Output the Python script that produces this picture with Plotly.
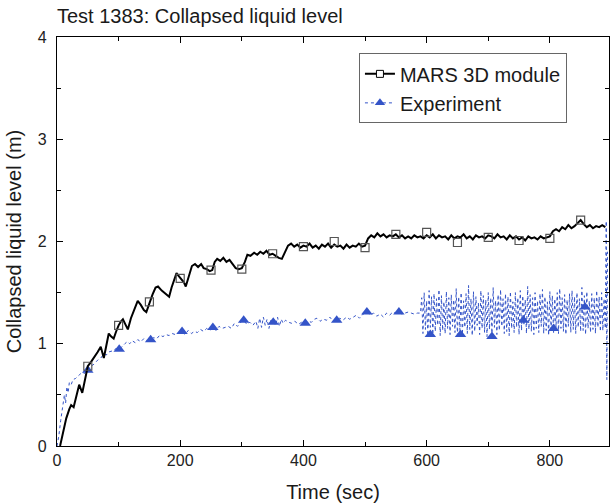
import plotly.graph_objects as go

# ---------------- data ----------------
mars_t = [5, 10, 15, 20, 23, 27, 31, 36, 41, 45, 50, 55, 60, 66, 71, 76, 80, 84, 88, 92,
          96, 100, 104, 107, 111, 115, 120, 125, 131, 136, 141, 145, 150, 155, 160, 164,
          170, 176, 182, 186, 190, 194, 198, 202, 206, 209, 214, 219, 224, 229, 234, 238,
          243, 248, 252, 256, 260, 265, 270, 275, 280, 285, 290, 295, 300, 305, 309, 314,
          320, 325, 330, 335, 340, 345, 350, 355, 360, 365, 370, 375, 380, 385, 390, 395,
          400, 405, 410, 415, 420, 425, 430, 435, 440, 445, 450, 455, 460, 465, 470, 475,
          480, 485, 490, 495, 500, 505, 510, 515, 520, 525, 530, 535, 540, 545, 550, 555,
          560, 565, 570, 575, 580, 585, 590, 595, 600, 605, 610, 615, 620, 625, 630, 635,
          640, 645, 650, 655, 660, 665, 670, 675, 680, 685, 690, 695, 700, 705, 710, 715,
          720, 725, 730, 735, 740, 745, 750, 755, 760, 765, 770, 775, 780, 785, 790, 795,
          800, 805, 810, 815, 820, 825, 830, 835, 840, 845, 850, 855, 860, 865, 870, 875,
          880, 885, 890]
mars_v = [0.00, 0.15, 0.27, 0.36, 0.40, 0.38, 0.48, 0.60, 0.52, 0.65, 0.78, 0.82, 0.86, 0.92, 0.97, 0.86, 0.98, 1.10, 1.07, 1.05,
          1.12, 1.18, 1.22, 1.24, 1.19, 1.14, 1.25, 1.33, 1.42, 1.38, 1.33, 1.31, 1.40, 1.48, 1.55, 1.56,
          1.52, 1.49, 1.46, 1.55, 1.62, 1.69, 1.66, 1.63, 1.60, 1.56, 1.66, 1.76, 1.78, 1.75, 1.78, 1.74,
          1.73, 1.71, 1.72, 1.80, 1.83, 1.81, 1.84, 1.80, 1.82, 1.78, 1.74, 1.73, 1.74, 1.80, 1.87, 1.86,
          1.89, 1.87, 1.90, 1.88, 1.91, 1.87, 1.88, 1.86, 1.84, 1.83, 1.90, 1.96, 1.98, 1.95, 1.97, 1.94,
          1.96, 1.95, 1.98, 1.94, 1.96, 1.93, 1.97, 1.95, 1.98, 1.94, 1.97, 1.95, 1.96, 1.93, 1.97, 1.94,
          1.96, 1.95, 1.98, 1.95, 1.96, 2.03, 2.06, 2.04, 2.08, 2.05, 2.07, 2.04, 2.06, 2.05, 2.07, 2.04,
          2.06, 2.03, 2.05, 2.03, 2.06, 2.04, 2.05, 2.03, 2.06, 2.04, 2.07, 2.03, 2.06, 2.04, 2.05, 2.02,
          2.06, 2.03, 2.05, 2.04, 2.07, 2.03, 2.05, 2.02, 2.06, 2.04, 2.05, 2.03, 2.06, 2.05, 2.03, 2.07,
          2.04, 2.05, 2.02, 2.06, 2.03, 2.05, 2.02, 2.04, 2.01, 2.05, 2.03, 2.04, 2.02, 2.05, 2.03, 2.04,
          2.05, 2.10, 2.12, 2.10, 2.14, 2.12, 2.16, 2.13, 2.15, 2.18, 2.21, 2.17, 2.14, 2.16, 2.13, 2.15,
          2.14, 2.16, 2.14]

mars_mk_t = [50, 100, 150, 200, 250, 300, 350, 400, 450, 500, 550, 600, 650, 700, 750, 800, 850]
mars_mk_v = [0.78, 1.18, 1.41, 1.64, 1.72, 1.73, 1.88, 1.95, 2.00, 1.94, 2.07, 2.09, 1.99, 2.04, 2.01, 2.03, 2.21]

exp_t = [0, 3, 6, 9, 12, 14, 16, 18, 20, 23, 26, 30, 33, 37, 41, 45, 50, 55, 60, 66,
         71, 76, 80, 84, 90, 95, 101, 106, 110, 114, 118, 122, 127, 131, 136, 141, 146, 152, 157, 162,
         167, 172, 177, 182, 187, 192, 197, 203, 208, 213, 218, 223, 228, 233, 238, 243, 248, 253, 258, 263,
         268, 273, 278, 283, 288, 293, 298, 303, 308, 313, 318, 323, 326, 329, 332, 335, 338, 341, 344, 347,
         351, 355, 358, 361, 364, 367, 371, 376, 381, 386, 392, 397, 403, 408, 413, 418, 422, 427, 432, 438,
         443, 448, 454, 459, 464, 470, 475, 481, 486, 491, 497, 503, 508, 514, 519, 525, 530, 535, 540, 545,
         550, 555, 560, 565, 570, 575, 580, 585, 590,
         592, 594, 596, 598, 600, 602, 604, 606, 608, 610,
         612, 614, 616, 618, 620, 622, 624, 626, 628, 630,
         632, 634, 636, 638, 640, 642, 644, 646, 648, 650,
         652, 654, 656, 658, 660, 662, 664, 666, 668, 670,
         672, 674, 676, 678, 680, 682, 684, 686, 688, 690,
         692, 694, 696, 698, 700, 702, 704, 706, 708, 710,
         712, 714, 716, 718, 720, 722, 724, 726, 728, 730,
         732, 734, 736, 738, 740, 742, 744, 746, 748, 750,
         752, 754, 756, 758, 760, 762, 764, 766, 768, 770,
         772, 774, 776, 778, 780, 782, 784, 786, 788, 790,
         792, 794, 796, 798, 800, 802, 804, 806, 808, 810,
         812, 814, 816, 818, 820, 822, 824, 826, 828, 830,
         832, 834, 836, 838, 840, 842, 844, 846, 848, 850,
         852, 854, 856, 858, 860, 862, 864, 866, 868, 870,
         872, 874, 876, 878, 880, 882, 884, 886, 888, 890,
         891.5, 892.5, 893.5]
exp_v = [0.00, 0.10, 0.25, 0.40, 0.50, 0.42, 0.58, 0.52, 0.62, 0.60, 0.65, 0.66, 0.68, 0.70, 0.72, 0.71, 0.74, 0.78, 0.80, 0.84,
         0.86, 0.90, 0.89, 0.92, 0.93, 0.95, 0.945, 0.98, 1.00, 1.02, 1.00, 1.03, 1.01, 1.04, 1.02, 1.05, 1.03, 1.04, 1.06, 1.05,
         1.085, 1.07, 1.09, 1.08, 1.10, 1.09, 1.11, 1.12, 1.09, 1.13, 1.10, 1.12, 1.11, 1.14, 1.12, 1.15, 1.13, 1.16, 1.13, 1.17,
         1.15, 1.16, 1.17, 1.15, 1.20, 1.17, 1.21, 1.23, 1.19, 1.21, 1.18, 1.22, 1.15, 1.25, 1.16, 1.26, 1.18, 1.24, 1.15, 1.23,
         1.21, 1.18, 1.26, 1.17, 1.24, 1.20, 1.23, 1.21, 1.20, 1.22, 1.19, 1.21, 1.20, 1.22, 1.21, 1.24, 1.25, 1.22, 1.24, 1.23,
         1.26, 1.22, 1.23, 1.25, 1.23, 1.26, 1.24, 1.26, 1.28, 1.25, 1.29, 1.31, 1.28, 1.30, 1.27, 1.29, 1.26, 1.30, 1.28, 1.31,
         1.30, 1.31, 1.29, 1.30, 1.31, 1.30, 1.29, 1.30, 1.30,
         1.45, 1.10, 1.50, 1.14, 1.42, 1.08, 1.52, 1.16, 1.46, 1.09,
         1.49, 1.12, 1.44, 1.18, 1.53, 1.08, 1.47, 1.13, 1.41, 1.10,
         1.51, 1.15, 1.45, 1.09, 1.48, 1.17, 1.43, 1.11, 1.54, 1.08,
         1.46, 1.13, 1.50, 1.09, 1.42, 1.16, 1.49, 1.10, 1.57, 1.14,
         1.44, 1.08, 1.51, 1.12, 1.46, 1.18, 1.40, 1.09, 1.52, 1.15,
         1.47, 1.11, 1.43, 1.07, 1.50, 1.14, 1.45, 1.10, 1.55, 1.16,
         1.42, 1.09, 1.48, 1.13, 1.53, 1.17, 1.44, 1.10, 1.49, 1.12,
         1.46, 1.08, 1.51, 1.15, 1.41, 1.11, 1.50, 1.16, 1.45, 1.09,
         1.52, 1.13, 1.47, 1.18, 1.43, 1.10, 1.56, 1.14, 1.48, 1.12,
         1.45, 1.09, 1.50, 1.15, 1.42, 1.11, 1.49, 1.17, 1.53, 1.10,
         1.46, 1.13, 1.41, 1.08, 1.51, 1.14, 1.47, 1.11, 1.44, 1.16,
         1.50, 1.10, 1.54, 1.15, 1.45, 1.12, 1.48, 1.09, 1.43, 1.17,
         1.49, 1.11, 1.52, 1.14, 1.46, 1.10, 1.50, 1.16, 1.44, 1.12,
         1.55, 1.13, 1.47, 1.09, 1.51, 1.15, 1.42, 1.11, 1.49, 1.14,
         1.45, 1.10, 1.52, 1.16, 1.46, 1.12, 1.50, 1.13, 1.44, 1.15,
         2.20, 0.65, 1.90]

exp_mk_t = [50, 101, 152, 203, 253, 303, 351, 403, 454, 503, 555, 606, 655, 706, 757, 806, 857]
exp_mk_v = [0.74, 0.945, 1.04, 1.12, 1.16, 1.23, 1.21, 1.20, 1.23, 1.31, 1.31, 1.09, 1.09, 1.07, 1.23, 1.15, 1.36]

title_text = "Test 1383: Collapsed liquid level"
x_title = "Time (sec)"
y_title = "Collapsed liquid level (m)"
legend_names = ["MARS 3D module", "Experiment"]

# ---------------- styling ----------------
FONT = "Arial, Liberation Sans, sans-serif"
BLUE = "rgb(52,84,200)"
TXT = "#1a1a1a"

fig = go.Figure()

# Experiment line (no markers)
fig.add_trace(go.Scatter(x=exp_t, y=exp_v, mode="lines",
                         line=dict(color=BLUE, width=1, dash="dot"),
                         showlegend=False, hoverinfo="skip"))
# Experiment markers
fig.add_trace(go.Scatter(x=exp_mk_t, y=exp_mk_v, mode="markers",
                         marker=dict(symbol="triangle-up", size=10, color=BLUE,
                                     line=dict(width=0)),
                         showlegend=False))
# MARS line
fig.add_trace(go.Scatter(x=mars_t, y=mars_v, mode="lines",
                         line=dict(color="black", width=2),
                         showlegend=False, hoverinfo="skip"))
# MARS markers
fig.add_trace(go.Scatter(x=mars_mk_t, y=mars_mk_v, mode="markers",
                         marker=dict(symbol="square-open", size=8, color="#555555",
                                     line=dict(width=1.2)),
                         showlegend=False))

# legend entries
fig.add_trace(go.Scatter(x=[None], y=[None], mode="lines+markers", name=legend_names[0],
                         line=dict(color="black", width=2),
                         marker=dict(symbol="square", size=7, color="white",
                                     line=dict(color="black", width=1))))
fig.add_trace(go.Scatter(x=[None], y=[None], mode="lines+markers", name=legend_names[1],
                         line=dict(color=BLUE, width=1, dash="dot"),
                         marker=dict(symbol="triangle-up", size=9, color=BLUE)))

axis_common = dict(showline=True, linecolor="black", linewidth=1.2, mirror="ticks",
                   ticks="inside", ticklen=6, tickwidth=1, tickcolor="black",
                   showgrid=False, zeroline=False,
                   tickfont=dict(family=FONT, size=16, color="#222222"))

fig.update_layout(
    width=610, height=504,
    margin=dict(l=57, r=1, t=37, b=58),
    paper_bgcolor="white", plot_bgcolor="white",
    font=dict(family=FONT, color=TXT),
    title=dict(text=title_text, x=57 / 610, xanchor="left", xref="container",
               y=1 - 16 / 504, yanchor="middle", yref="container",
               font=dict(family=FONT, size=20, color=TXT)),
    legend=dict(x=0.547, y=0.96, xanchor="left", yanchor="top",
                bordercolor="#666666", borderwidth=1, bgcolor="white",
                font=dict(family=FONT, size=20, color=TXT),
                tracegroupgap=0, itemwidth=30),
    xaxis=dict(range=[0, 896], dtick=200, tick0=0,
               minor=dict(dtick=100, ticklen=4, ticks="inside", tickcolor="black"),
               title=dict(text=x_title, font=dict(family=FONT, size=20, color=TXT), standoff=16),
               **axis_common),
    yaxis=dict(range=[0, 4], dtick=1, tick0=0, ticklabelstandoff=6,
               minor=dict(dtick=0.5, ticklen=4, ticks="inside", tickcolor="black"),
               title=dict(text=y_title, font=dict(family=FONT, size=20, color=TXT), standoff=10),
               **axis_common),
)

fig.write_html("out.html")
